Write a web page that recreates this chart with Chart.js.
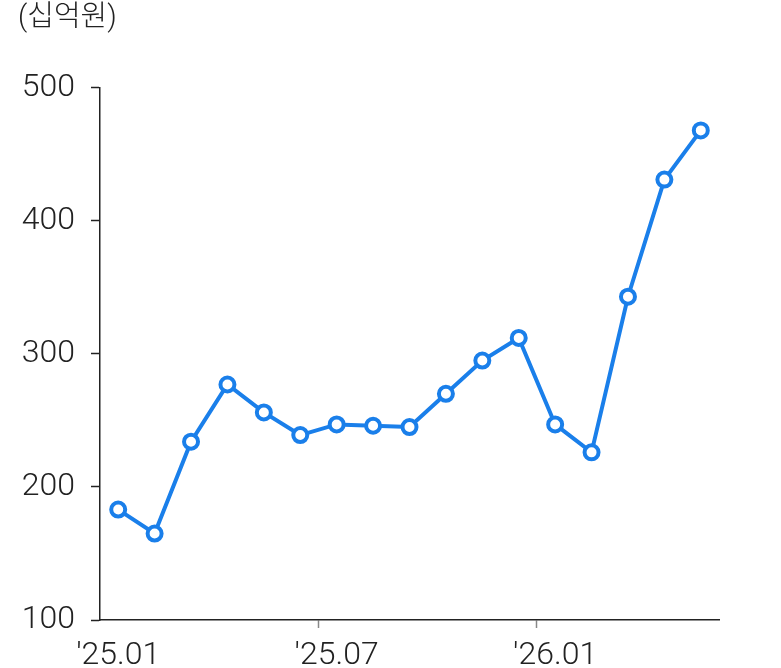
<!doctype html>
<html lang="ko">
  <head>
    <meta charset="utf-8">
    <script src="https://cdn.jsdelivr.net/npm/chart.js@4.4.0/dist/chart.umd.min.js"></script>
    <style>
      html, body { margin: 0; padding: 0; background: #fff; }
      #wrap { width: 781px; height: 668px; }
    </style>
    <title>십억원 추이</title>
  </head>
  <body>
    <div id="wrap"><canvas id="myChart"></canvas></div>

    <script>
      // months (monthly data, '25.01 ~ '26.05)
      const months = ["'25.01", "'25.02", "'25.03", "'25.04", "'25.05", "'25.06",
                      "'25.07", "'25.08", "'25.09", "'25.10", "'25.11", "'25.12",
                      "'26.01", "'26.02", "'26.03", "'26.04", "'26.05"];
      // values in 십억원
      const values = [183, 165, 234, 277, 256, 239, 247, 246, 245, 270, 295, 312,
                      247, 226, 343, 431, 468];
      const shownLabels = ["'25.01", "'25.07", "'26.01"];
      const yTicks = [100, 200, 300, 400, 500];

      const blue = '#1a7fea';
      const ink = '#222';
      const fontFamily = "Roboto, 'Noto Sans CJK KR', sans-serif";

      Chart.defaults.font.family = fontFamily;
      Chart.defaults.color = ink;

      const ctx = document.getElementById('myChart');

      const myChart = new Chart(ctx, {
        type: 'line',
        data: {
          labels: months,
          datasets: [{
            data: values,
            borderColor: blue,
            borderWidth: 4,
            tension: 0,
            pointRadius: 7,
            pointBorderWidth: 4,
            pointBackgroundColor: '#fff',
            pointBorderColor: blue
          }]
        },
        options: {
          responsive: true,
          maintainAspectRatio: false,
          animation: false,
          layout: { padding: { left: 18, right: 62, top: 0, bottom: 0 } },
          scales: {
            x: {
              type: 'category',
              offset: true,
              grid: {
                offset: true,
                drawOnChartArea: false,
                tickLength: 8,
                tickWidth: 1.5,
                tickColor: (c) => (c.index % 6 === 0 && c.index > 0) ? '#888' : 'rgba(0,0,0,0)'
              },
              border: { color: ink, width: 1.5 },
              ticks: {
                autoSkip: false,
                maxRotation: 0,
                padding: 9,
                font: { size: 32, weight: 300 },
                color: ink,
                callback: function (value, index) {
                  const lab = this.getLabelForValue(value);
                  return shownLabels.includes(lab) ? lab : '';
                }
              },
              afterFit: (scale) => { scale.height = 48; }
            },
            y: {
              min: yTicks[0],
              max: yTicks[yTicks.length - 1],
              afterBuildTicks: (scale) => { scale.ticks = yTicks.map(v => ({ value: v })); },
              grid: {
                drawOnChartArea: false,
                tickLength: 9,
                tickWidth: 1.5,
                tickColor: ink
              },
              border: { color: ink, width: 1.5 },
              ticks: {
                padding: 16,
                font: { size: 32, weight: 300 },
                color: ink
              },
              afterFit: (scale) => { scale.width = 82; }
            }
          },
          plugins: {
            legend: { display: false },
            tooltip: { enabled: false },
            title: {
              display: true,
              text: '(십억원)',
              align: 'start',
              color: ink,
              font: { size: 29, weight: 300 },
              padding: { top: 1, bottom: 52 }
            }
          }
        }
      });
    </script>
  </body>
</html>
